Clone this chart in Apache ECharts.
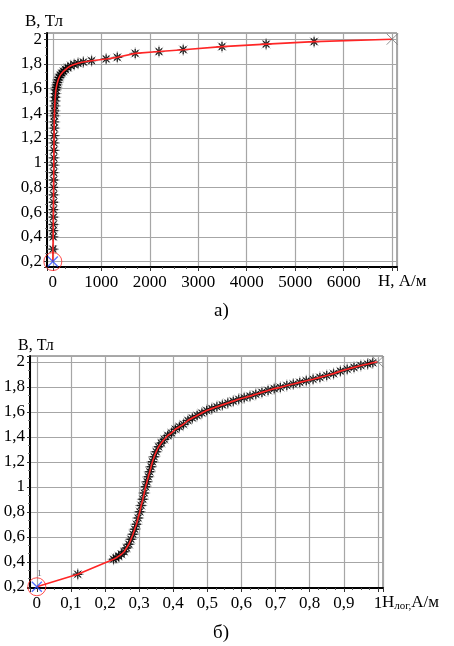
<!DOCTYPE html>
<html>
<head>
<meta charset="utf-8">
<script src="https://cdn.jsdelivr.net/npm/echarts@6/dist/echarts.min.js"></script>
<style>
	html, body {margin: 0;padding: 0;background: #fff}
	#main {width: 454px;height: 646px}
</style>
</head>
<body>
<div id="main"></div>
<script>
	// а) кривая намагничивания B(H)
	var hA = [0, 3, 8, 10, 11, 12, 13, 14, 15, 16, 17, 18, 19, 20, 22, 24, 26, 28, 30, 33, 36, 40, 45, 50, 56, 63, 72, 82, 95, 110,
		130, 155, 185, 220, 260, 310, 370, 440, 520, 630, 800, 1100, 1330, 1700, 2190, 2690, 3490, 4400, 5390, 7000];
	var bA = [0.2, 0.3, 0.4, 0.45, 0.5, 0.56, 0.62, 0.68, 0.74, 0.8, 0.86, 0.92, 0.98, 1.04, 1.1, 1.16, 1.22, 1.28, 1.33, 1.38,
		1.42, 1.46, 1.5, 1.53, 1.56, 1.59, 1.61, 1.63, 1.65, 1.67, 1.69, 1.71, 1.725, 1.74, 1.755, 1.77, 1.785, 1.795, 1.805, 1.815,
		1.826, 1.84, 1.853, 1.885, 1.9, 1.915, 1.94, 1.96, 1.98, 2.0];

	// б) та же кривая по логарифмической оси H
	var hB = [0, 0.12, 0.225, 0.232, 0.24, 0.248, 0.256, 0.263, 0.27, 0.276, 0.282, 0.287, 0.292, 0.297, 0.302, 0.306, 0.311,
		0.315, 0.319, 0.323, 0.327, 0.331, 0.335, 0.339, 0.344, 0.35, 0.357, 0.365, 0.374, 0.384, 0.395, 0.406, 0.418, 0.43,
		0.443, 0.456, 0.47, 0.484, 0.498, 0.513, 0.528, 0.544, 0.56, 0.576, 0.592, 0.608, 0.625, 0.642, 0.66, 0.678, 0.696,
		0.714, 0.733, 0.752, 0.771, 0.79, 0.81, 0.83, 0.85, 0.87, 0.89, 0.91, 0.93, 0.95, 0.97, 0.985, 1.0];
	var bB = [0.2, 0.3, 0.42, 0.43, 0.445, 0.46, 0.48, 0.51, 0.54, 0.58, 0.62, 0.66, 0.7, 0.75, 0.8, 0.85, 0.9,
		0.95, 1.0, 1.04, 1.08, 1.12, 1.16, 1.2, 1.24, 1.28, 1.32, 1.35, 1.38, 1.41, 1.43, 1.46, 1.48, 1.5,
		1.53, 1.55, 1.57, 1.59, 1.61, 1.625, 1.64, 1.655, 1.67, 1.685, 1.7, 1.712, 1.725, 1.74, 1.755, 1.77, 1.785,
		1.795, 1.81, 1.822, 1.835, 1.848, 1.86, 1.875, 1.89, 1.905, 1.925, 1.94, 1.955, 1.97, 1.982, 1.992, 2.0];

	var yTicks = [0.2, 0.4, 0.6, 0.8, 1, 1.2, 1.4, 1.6, 1.8, 2];
	var yLabels = ['0,2', '0,4', '0,6', '0,8', '1', '1,2', '1,4', '1,6', '1,8', '2'];
	var xTicksA = [0, 1000, 2000, 3000, 4000, 5000, 6000];
	var xLabelsA = ['0', '1000', '2000', '3000', '4000', '5000', '6000'];
	var xTicksB = [0, 0.1, 0.2, 0.3, 0.4, 0.5, 0.6, 0.7, 0.8, 0.9, 1];
	var xLabelsB = ['0', '0,1', '0,2', '0,3', '0,4', '0,5', '0,6', '0,7', '0,8', '0,9', '1'];

	var star = 'path://M5,0L5,10M0,5L10,5M1.5,1.5L8.5,8.5M1.5,8.5L8.5,1.5';
	var cross = 'path://M0,0L10,10M0,10L10,0';
	var font = '"Liberation Serif", "Times New Roman", serif';

	function pick(ticks, labels) {
		return function (v) {
			for (var i = 0; i < ticks.length; i++) {
				if (Math.abs(ticks[i] - v) < 1e-6) return labels[i];
			}
			return '';
		};
	}

	function inner(xs, ys) {
		var pts = [];
		for (var i = 1; i < xs.length - 1; i++) pts.push([xs[i], ys[i]]);
		return pts;
	}

	function xAxis(idx, min, max, split, ticks, labels) {
		return {
			type: 'value', gridIndex: idx, min: min, max: max, splitNumber: split,
			axisLine: {onZero: false, lineStyle: {color: '#000', width: 2}},
			axisTick: {show: true, length: 4, lineStyle: {color: '#333'}},
			minorTick: {show: true, splitNumber: 4, length: 2, lineStyle: {color: '#555'}},
			splitLine: {show: true, lineStyle: {color: '#a6a6a6', width: 1.2}},
			axisLabel: {formatter: pick(ticks, labels), color: '#000', fontFamily: font, fontSize: 17, margin: 7,
				showMinLabel: true, showMaxLabel: true, hideOverlap: false}
		};
	}

	function yAxis(idx, min, max) {
		return {
			type: 'value', gridIndex: idx, min: min, max: max, splitNumber: 9,
			axisLine: {show: true, onZero: false, lineStyle: {color: '#000', width: 2}},
			axisTick: {show: true, length: 3, lineStyle: {color: '#333'}},
			minorTick: {show: true, splitNumber: 3, length: 2, lineStyle: {color: '#777'}},
			splitLine: {show: true, lineStyle: {color: '#a6a6a6', width: 1.2}},
			axisLabel: {formatter: pick(yTicks, yLabels), color: '#000', fontFamily: font, fontSize: 17, margin: 5,
				showMinLabel: true, showMaxLabel: true, hideOverlap: false}
		};
	}

	// красная линия и звёздочки (серый ореол + чёрная середина)
	function curveSeries(idx, xs, ys) {
		var pts = inner(xs, ys);
		var all = xs.map(function (x, i) { return [x, ys[i]]; });
		return [{
			type: 'scatter', xAxisIndex: idx, yAxisIndex: idx, data: pts,
			symbol: star, symbolSize: 12, z: 2,
			itemStyle: {color: 'none', borderColor: '#8a8a8a', borderWidth: 1}
		}, {
			type: 'scatter', xAxisIndex: idx, yAxisIndex: idx, data: pts,
			symbol: star, symbolSize: 9, z: 3,
			itemStyle: {color: 'none', borderColor: '#000', borderWidth: 1.3}
		}, {
			type: 'line', xAxisIndex: idx, yAxisIndex: idx, data: all,
			symbol: 'none', z: 4,
			lineStyle: {color: '#ff2626', width: 1.6}
		}];
	}

	function startMarks(idx, xs, ys) {
		return [{
			type: 'scatter', xAxisIndex: idx, yAxisIndex: idx, data: [[xs[0], ys[0]]],
			symbol: 'circle', symbolSize: 18, z: 5,
			itemStyle: {color: 'none', borderColor: '#ff2020', borderWidth: 1}
		}, {
			type: 'scatter', xAxisIndex: idx, yAxisIndex: idx, data: [[xs[0], ys[0]]],
			symbol: cross, symbolSize: 10, z: 6,
			itemStyle: {color: 'none', borderColor: '#2a4cff', borderWidth: 1.3},
			label: {show: true, formatter: '1', position: [8, -10], fontSize: 9, color: '#334', fontFamily: font}
		}];
	}

	function endMark(idx, xs, ys) {
		var n = xs.length - 1;
		return {
			type: 'scatter', xAxisIndex: idx, yAxisIndex: idx, data: [[xs[n], ys[n]]],
			symbol: cross, symbolSize: 11, z: 6,
			itemStyle: {color: 'none', borderColor: '#777', borderWidth: 1}
		};
	}

	var myChart = echarts.init(document.getElementById('main'));
	var option = {
		animation: false,
		backgroundColor: '#fff',
		grid: [
			{left: 47, top: 33, width: 350, height: 234, show: true, borderColor: '#555', borderWidth: 1, backgroundColor: 'transparent'},
			{left: 30, top: 356, width: 353, height: 232, show: true, borderColor: '#555', borderWidth: 1, backgroundColor: 'transparent'}
		],
		xAxis: [
			xAxis(0, -120, 7100, 7, xTicksA, xLabelsA),
			xAxis(1, -0.02, 1.015, 10, xTicksB, xLabelsB)
		],
		yAxis: [
			yAxis(0, 0.156, 2.05),
			yAxis(1, 0.19, 2.046)
		],
		series: [].concat(
			curveSeries(0, hA, bA), [endMark(0, hA, bA)], startMarks(0, hA, bA),
			curveSeries(1, hB, bB), [endMark(1, hB, bB)], startMarks(1, hB, bB)
		),
		graphic: [
			{type: 'text', left: 25, top: 13, style: {text: 'В, Тл', font: '17px "Liberation Serif"', fill: '#000'}},
			{type: 'text', left: 378, top: 273, style: {text: 'H, А/м', font: '17px "Liberation Serif"', fill: '#000'}},
			{type: 'text', left: 214, top: 302, style: {text: 'а)', font: '19px "Liberation Serif"', fill: '#000'}},
			{type: 'text', left: 18, top: 338, style: {text: 'В, Тл', font: '16px "Liberation Serif"', fill: '#000'}},
			{type: 'text', left: 382, top: 594, style: {
				text: 'H{s|лог,}А/м', font: '17px "Liberation Serif"', fill: '#000',
				rich: {s: {fontSize: 11, fontFamily: font, verticalAlign: 'bottom', padding: [8, 0, 0, 0]}}
			}},
			{type: 'text', left: 213, top: 624, style: {text: 'б)', font: '19px "Liberation Serif"', fill: '#000'}}
		]
	};
	myChart.setOption(option);
</script>
</body>
</html>
